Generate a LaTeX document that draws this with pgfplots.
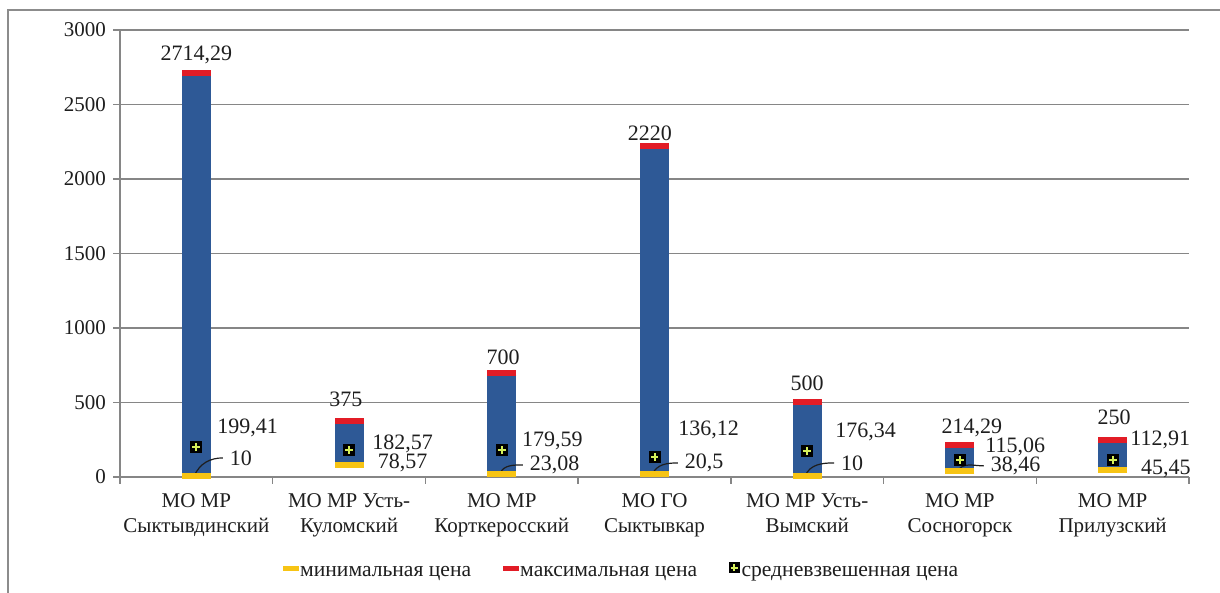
\documentclass[border=0pt]{standalone}
\usepackage{fontspec}
\setmainfont{Liberation Serif}
\usepackage{pgfplots}
\usepackage{pgfplotstable}
\pgfplotsset{compat=1.18}
\definecolor{barblue}{RGB}{46,89,150}
\definecolor{maxred}{RGB}{226,28,38}
\definecolor{minyellow}{RGB}{247,196,20}
\definecolor{plusgreen}{RGB}{214,240,90}
\definecolor{gridgray}{RGB}{134,134,134}
\definecolor{framegray}{RGB}{140,140,140}
\definecolor{txt}{RGB}{30,30,30}

\pgfdeclareplotmark{sqplus}{%
  \pgfscope
  \pgfpathrectangle{\pgfpoint{-\pgfplotmarksize}{-\pgfplotmarksize}}{\pgfpoint{2\pgfplotmarksize}{2\pgfplotmarksize}}%
  \pgfsetfillcolor{black}\pgfusepath{fill}%
  \pgfsetstrokecolor{plusgreen}\pgfsetlinewidth{1pt}%
  \pgfpathmoveto{\pgfpoint{-0.65\pgfplotmarksize}{0pt}}\pgfpathlineto{\pgfpoint{0.65\pgfplotmarksize}{0pt}}%
  \pgfpathmoveto{\pgfpoint{0pt}{-0.65\pgfplotmarksize}}\pgfpathlineto{\pgfpoint{0pt}{0.65\pgfplotmarksize}}%
  \pgfusepath{stroke}%
  \endpgfscope}

\pgfplotstableread{
x lo hi avg minlab maxlab avglab mdx mdy Mdx Mdy adx ady
0 10 2714.29 199.41 10 2714,29 199,41 15.3 8.8 0 8.8 10.3 9.5
1 78.57 375 182.57 78,57 375 182,57 12.9 1.2 -1.6 11 11.4 2.9
2 23.08 700 179.59 23,08 700 179,59 12.5 4.3 0.7 7.9 10 4.6
3 20.5 2220 136.12 20,5 2220 136,12 13.7 5.5 -2.3 6.5 11.7 13.4
4 10 500 176.34 10 500 176,34 15.4 6.3 0 9.5 13.9 9.4
5 38.46 214.29 115.06 38,46 214,29 115,06 14 2.7 6 8.5 12.5 6.5
6 45.45 250 112.91 45,45 250 112,91 12.7 0.6 0.7 11 8.7 10
}\datatable

\begin{document}
\begin{tikzpicture}
\begin{axis}[name=ax, scale only axis, width=534.5pt, height=223.5pt,
  xmin=-0.5, xmax=6.5, ymin=0, ymax=3000,
  ytick={0,500,...,3000},
  xtick={-0.5,0.5,...,6.5},
  x tick label as interval,
  xticklabels={{МО МР\\Сыктывдинский},{МО МР Усть-\\Куломский},{МО МР\\Корткеросский},{МО ГО\\Сыктывкар},{МО МР Усть-\\Вымский},{МО МР\\Сосногорск},{МО МР\\Прилузский}},
  xticklabel style={align=center, font=\fontsize{10.5}{12.5}\selectfont, text=txt, yshift=-1.2pt},
  yticklabel style={font=\fontsize{10.5}{12}\selectfont, text=txt},
  axis x line*=bottom, axis y line*=left,
  axis line style={gridgray, line width=0.75pt},
  tick style={gridgray, line width=0.75pt},
  tick align=outside, major tick length=3.5pt,
  ymajorgrids, grid style={gridgray, line width=0.75pt},
  /pgf/number format/assume math mode=true, /pgf/number format/1000 sep={},
  clip=false,
  legend style={at={(0.469,-0.215)}, anchor=center, draw=none, fill=none,
    legend columns=-1, font=\fontsize{10.8}{12}\selectfont, text=txt,
    nodes={inner xsep=0.8pt},
    /tikz/every even column/.append style={column sep=15pt}},
]
\addplot[forget plot, draw=none, mark=none,
  error bars/.cd, y dir=plus, y explicit, error mark=none,
  error bar style={line width=14.5pt, draw=barblue}]
  table[x=x, y=lo, y error expr=\thisrow{hi}-\thisrow{lo}] {\datatable};

\addplot[only marks, mark=-, mark size=7.25pt, mark options={draw=minyellow, line width=3pt},
  nodes near coords, point meta=explicit symbolic,
  visualization depends on={\thisrow{mdx}\as\ldx},
  visualization depends on={\thisrow{mdy}\as\ldy},
  nodes near coords style={anchor=west, inner sep=0pt, xshift=\ldx, yshift=\ldy,
    font=\fontsize{11}{13}\selectfont, text=txt},
  legend image code/.code={\fill[minyellow] (0pt,1.6pt) rectangle (7.5pt,3.6pt);}]
  table[x=x, y=lo, meta=minlab] {\datatable};
\addlegendentry{минимальная цена}

\addplot[only marks, mark=-, mark size=7.25pt, mark options={draw=maxred, line width=3pt},
  nodes near coords, point meta=explicit symbolic,
  visualization depends on={\thisrow{Mdx}\as\ldx},
  visualization depends on={\thisrow{Mdy}\as\ldy},
  nodes near coords style={anchor=center, inner sep=0pt, xshift=\ldx, yshift=\ldy,
    font=\fontsize{11}{13}\selectfont, text=txt},
  legend image code/.code={\fill[maxred] (0pt,1.6pt) rectangle (7.5pt,3.6pt);}]
  table[x=x, y=hi, meta=maxlab] {\datatable};
\addlegendentry{максимальная цена}

\addplot[only marks, mark=sqplus, mark size=3pt,
  nodes near coords, point meta=explicit symbolic,
  visualization depends on={\thisrow{adx}\as\ldx},
  visualization depends on={\thisrow{ady}\as\ldy},
  nodes near coords style={anchor=west, inner sep=0pt, xshift=\ldx, yshift=\ldy,
    font=\fontsize{11}{13}\selectfont, text=txt},
  legend image code/.code={\draw[only marks, mark=sqplus, mark size=2.8pt] plot coordinates {(2.8pt,2.8pt)};}]
  table[x=x, y=avg, meta=avglab] {\datatable};
\addlegendentry{средневзвешенная цена}

\draw[txt, line width=0.6pt] ([xshift=-1pt]axis cs:0,10) to[out=65,in=180] ([xshift=13.3pt, yshift=8.8pt]axis cs:0,10);
\draw[txt, line width=0.6pt] ([xshift=-1pt]axis cs:2,23.08) to[out=65,in=180] ([xshift=10.5pt, yshift=4.3pt]axis cs:2,23.08);
\draw[txt, line width=0.6pt] ([xshift=-1pt]axis cs:3,20.5) to[out=65,in=180] ([xshift=11.7pt, yshift=5.5pt]axis cs:3,20.5);
\draw[txt, line width=0.6pt] ([xshift=-1pt]axis cs:4,10) to[out=65,in=180] ([xshift=13.4pt, yshift=6.3pt]axis cs:4,10);
\draw[txt, line width=0.6pt] ([xshift=-1pt]axis cs:5,38.46) to[out=65,in=180] ([xshift=12pt, yshift=2.7pt]axis cs:5,38.46);
\end{axis}
\draw[framegray, line width=1pt] ([xshift=-56pt, yshift=-200pt]ax.south west) -- ([xshift=-56pt, yshift=233.5pt]ax.south west) -- ([xshift=700pt, yshift=233.5pt]ax.south west);
\pgfresetboundingbox
\useasboundingbox ([xshift=-60pt, yshift=-58pt]ax.south west) rectangle ([xshift=550pt, yshift=238.5pt]ax.south west);
\end{tikzpicture}
\end{document}
